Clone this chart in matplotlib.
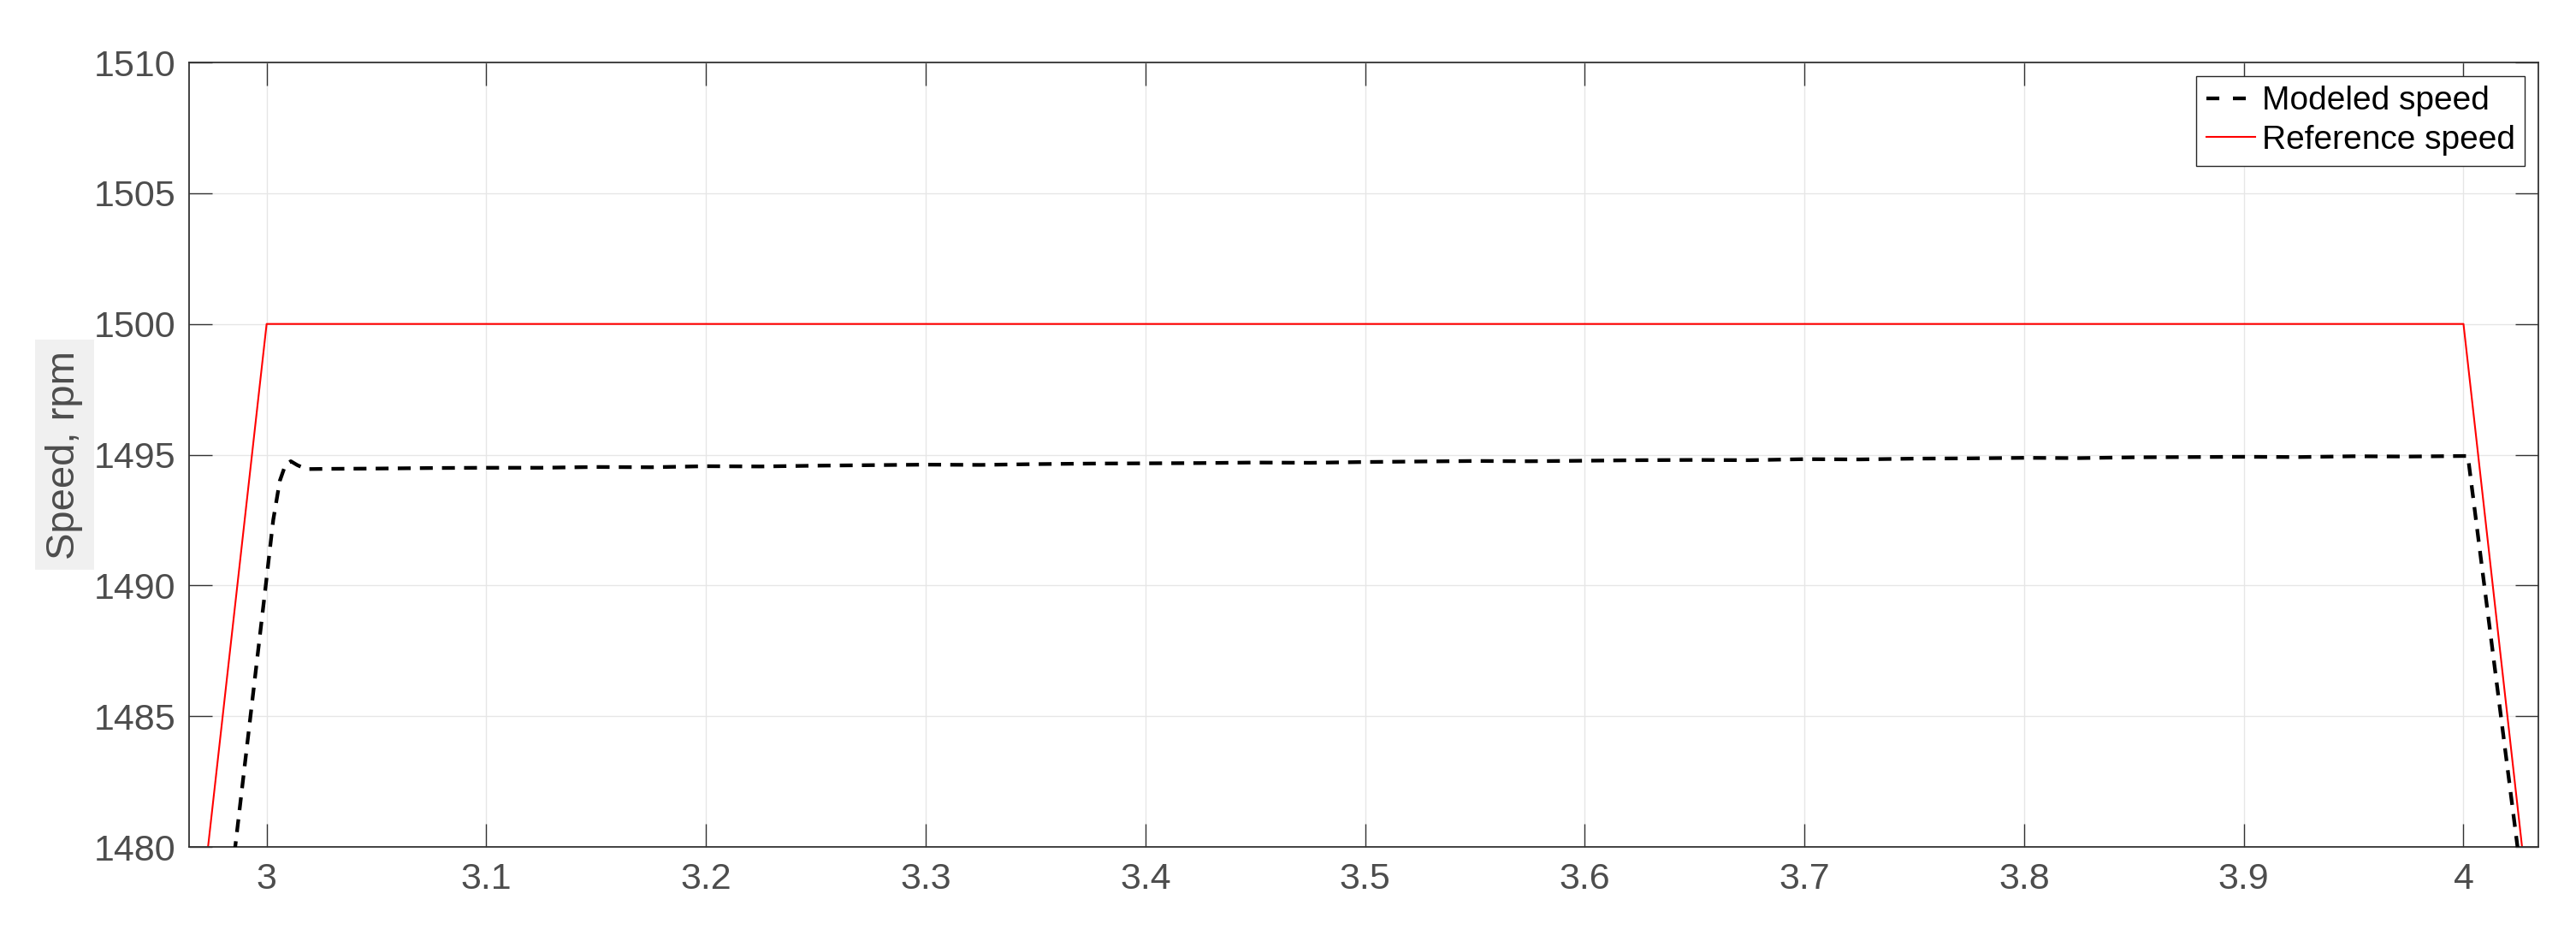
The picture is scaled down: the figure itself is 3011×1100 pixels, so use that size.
import matplotlib
matplotlib.use("Agg")
import matplotlib.pyplot as plt
from matplotlib.lines import Line2D

plt.rcParams["font.family"] = ["Liberation Sans", "DejaVu Sans"]

# ---------------------------------------------------------------------------
# Data
# ---------------------------------------------------------------------------

ref_t = [2.96, 3.0, 4.0, 4.04]
ref_speed = [1470.0, 1500.0, 1500.0, 1470.0]

model_t = [2.97, 2.9857, 2.9996, 3.003, 3.006, 3.0085, 3.011, 3.014, 3.018,
           3.03, 3.05, 3.075, 3.1, 3.125, 3.15, 3.175, 3.2, 3.225, 3.25,
           3.275, 3.3, 3.325, 3.35, 3.375, 3.4, 3.425, 3.45, 3.475, 3.5,
           3.525, 3.55, 3.575, 3.6, 3.625, 3.65, 3.675, 3.7, 3.725, 3.75,
           3.775, 3.8, 3.825, 3.85, 3.875, 3.9, 3.925, 3.95, 3.975, 4.0,
           4.002, 4.0246, 4.04]
model_speed = [1468.7, 1480.0, 1490.0, 1492.5, 1494.0, 1494.6, 1494.75, 1494.6, 1494.45,
               1494.46, 1494.47, 1494.49, 1494.50, 1494.50, 1494.53, 1494.52, 1494.56, 1494.55, 1494.58,
               1494.60, 1494.62, 1494.61, 1494.64, 1494.66, 1494.67, 1494.68, 1494.70, 1494.69, 1494.72,
               1494.74, 1494.76, 1494.75, 1494.77, 1494.79, 1494.80, 1494.79, 1494.83, 1494.82, 1494.85,
               1494.86, 1494.88, 1494.87, 1494.90, 1494.91, 1494.92, 1494.91, 1494.94, 1494.93, 1494.95,
               1494.95, 1480.0, 1469.8]

x_ticks = [3.0, 3.1, 3.2, 3.3, 3.4, 3.5, 3.6, 3.7, 3.8, 3.9, 4.0]
x_labels = ["3", "3.1", "3.2", "3.3", "3.4", "3.5", "3.6", "3.7", "3.8", "3.9", "4"]
y_ticks = [1480, 1485, 1490, 1495, 1500, 1505, 1510]

# ---------------------------------------------------------------------------
# Plot
# ---------------------------------------------------------------------------

fig = plt.figure(figsize=(30.11, 11.0), dpi=100)
ax = fig.add_axes([0.0734, 0.1, 0.912, 0.8336])

ax.plot(model_t, model_speed, color="black", linewidth=3.1, linestyle=(0, (3.5, 2.5)),
        zorder=3)
red_line, = ax.plot(ref_t, ref_speed, color="#ff0000", linewidth=1.5, zorder=2)

ax.set_xlim(2.9647, 4.0341)
ax.set_ylim(1480, 1510)
ax.set_xticks(x_ticks)
ax.set_xticklabels(x_labels)
ax.set_yticks(y_ticks)

ax.grid(True, color="#e6e6e6", linewidth=1.0, zorder=0)
ax.set_axisbelow(True)

axis_col = "#333333"
for sp in ax.spines.values():
    sp.set_color(axis_col)
    sp.set_linewidth(1.3)
ax.tick_params(axis="both", direction="in", length=19.5, width=1.0, color=axis_col,
               labelcolor="#4d4d4d", labelsize=31, top=True, right=True)
ax.tick_params(axis="x", pad=13)
ax.tick_params(axis="y", pad=11)

ax.set_ylabel("Speed, rpm", fontsize=34, color="#4d4d4d",
              bbox=dict(facecolor="#f0f0f0", edgecolor="none", pad=9))
ax.yaxis.set_label_coords(-0.045, 0.5)

# legend handle for the dashed line: two dashes, as in the reference
dash_handle = Line2D([], [], color="black", linewidth=3.1, linestyle=(0, (3.5, 3.7)))
leg = ax.legend([dash_handle, red_line], ["Modeled speed", "Reference speed"],
                loc="upper right", fontsize=28, fancybox=False, framealpha=1,
                edgecolor="#262626", borderaxespad=0.4, borderpad=0.3,
                handlelength=1.47, handletextpad=0.2, labelspacing=0.25)
leg.get_frame().set_linewidth(1.0)

fig.savefig("out.png", dpi=100, facecolor="white")
